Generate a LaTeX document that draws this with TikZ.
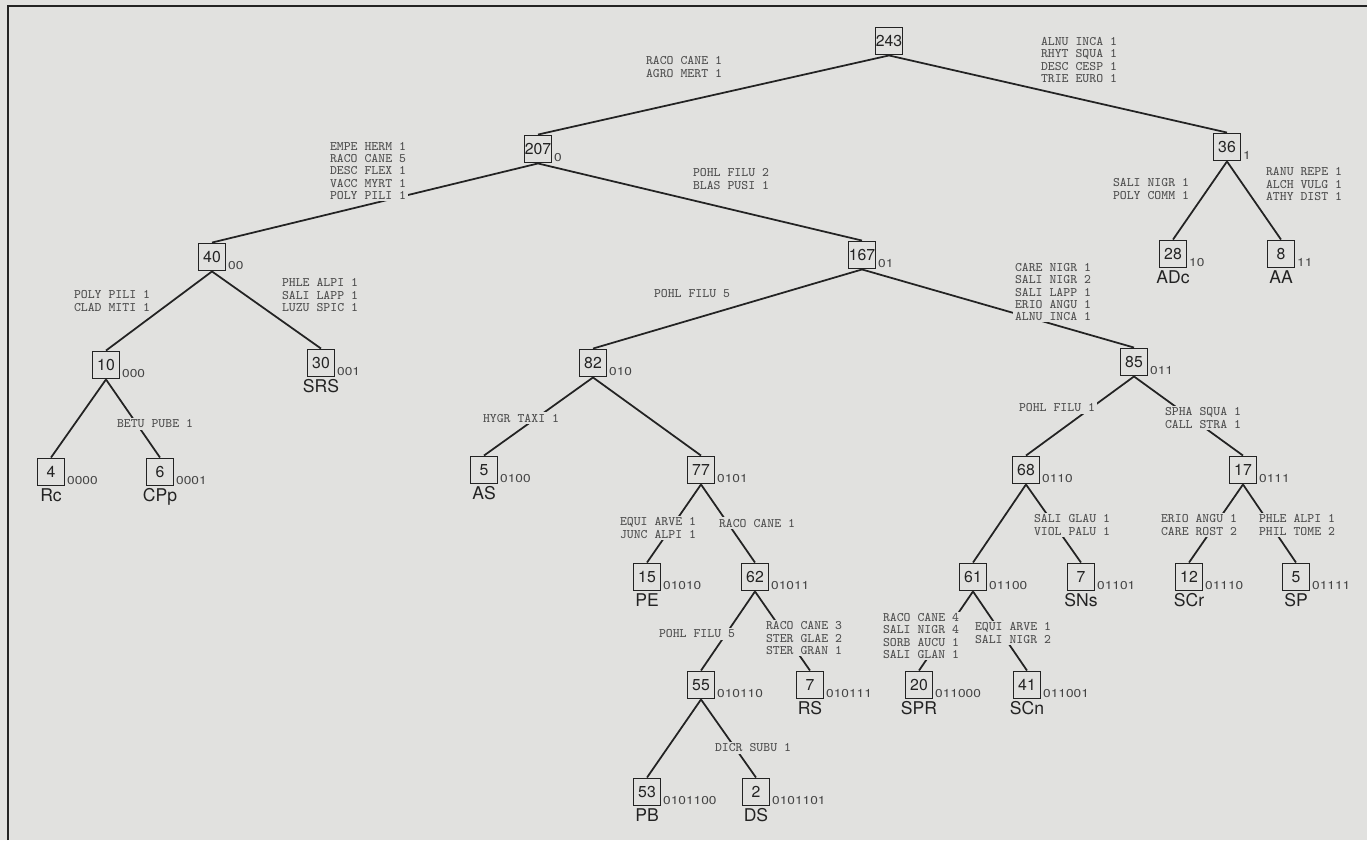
\documentclass[tikz,border=0pt]{standalone}
\usepackage{fontspec}
\newfontfamily\heros{TeX Gyre Heros}
\newfontfamily\heroswide[FakeStretch=1.2]{TeX Gyre Heros}
\definecolor{paper}{RGB}{225,225,223}
\definecolor{ink}{RGB}{35,35,35}
\definecolor{typeink}{RGB}{78,78,78}
\tikzset{
  cell/.style={draw=ink, line width=0.8pt, fill=paper, font=\fontsize{9}{9}\heros,
               text=ink, minimum size=0.55cm, inner sep=0pt},
  code/.style={anchor=south west, font=\fontsize{6.5}{6.5}\heroswide, text=ink!85, inner sep=0.8pt},
  group/.style={anchor=north, font=\fontsize{10}{10}\heros, text=ink, inner sep=1pt},
  spp/.style={fill=paper, font=\fontsize{7.4}{6.9}\ttfamily, text=typeink,
              align=left, inner sep=1pt},
  branch/.style={draw=ink, line width=1pt},
}
\begin{document}
\begin{tikzpicture}[x=0.02cm, y=-0.02cm]

  \fill[paper] (0,0) rectangle (1367,840);
  \useasboundingbox (0,0) rectangle (1367,840);
  \draw[ink, line width=1.3pt] (8,840) -- (8,6) -- (1367,6);

  % Clusters (size, binary code)
  \node[cell] (nr) at (889,41) {243};
  \foreach \id/\x/\y/\num in {0/538/149/207, 1/1227/147/36,
      00/212/257/40, 01/862/255/167, 10/1173/254/28, 11/1281/254/8,
      000/106/365/10, 001/321/363/30, 010/593/363/82, 011/1134/362/85,
      0000/51/472/4, 0001/160/472/6, 0100/484/470/5, 0101/701/470/77,
      0110/1026/470/68, 0111/1243/470/17,
      01010/647/577/15, 01011/755/577/62, 01100/973/577/61, 01101/1081/577/7,
      01110/1189/577/12, 01111/1296/577/5,
      010110/701/685/55, 010111/810/685/7, 011000/919/685/20, 011001/1027/685/41,
      0101100/647/792/53, 0101101/756/792/2}{
    \node[cell] (n\id) at (\x,\y) {\num};
    \node[code] (c\id) at (n\id.south east) {\id};
  }

  % Vegetation types at the leaves
  \foreach \id/\grp in {10/ADc, 11/AA, 001/SRS, 0000/Rc, 0001/CPp, 0100/AS,
      01010/PE, 01101/SNs, 01110/SCr, 01111/SP, 010111/RS, 011000/SPR,
      011001/SCn, 0101100/PB, 0101101/DS}
    \node[group] (g\id) at (n\id.south) {\grp};

  % Branches
  \foreach \a/\b in {r/0, r/1, 0/00, 0/01, 1/10, 1/11, 00/000, 00/001,
      01/010, 01/011, 000/0000, 000/0001, 010/0100, 010/0101, 011/0110,
      011/0111, 0101/01010, 0101/01011, 0110/01100, 0110/01101,
      0111/01110, 0111/01111, 01011/010110, 01011/010111,
      01100/011000, 01100/011001, 010110/0101100, 010110/0101101}
    \draw[branch] (n\a.south) -- (n\b.north);

  % Indicator species on the branches
  \node[spp] (s0) at (684,67) {RACO CANE 1\\AGRO MERT 1};
  \node[spp] (s1) at (1079,60) {ALNU INCA 1\\RHYT SQUA 1\\DESC CESP 1\\TRIE EURO 1};
  \node[spp] (s00) at (368,171) {EMPE HERM 1\\RACO CANE 5\\DESC FLEX 1\\VACC MYRT 1\\POLY PILI 1};
  \node[spp] (s01) at (731,179) {POHL FILU 2\\BLAS PUSI 1};
  \node[spp] (s10) at (1151,189) {SALI NIGR 1\\POLY COMM 1};
  \node[spp] (s11) at (1304,184) {RANU REPE 1\\ALCH VULG 1\\ATHY DIST 1};
  \node[spp] (s000) at (112,301) {POLY PILI 1\\CLAD MITI 1};
  \node[spp] (s001) at (320,295) {PHLE ALPI 1\\SALI LAPP 1\\LUZU SPIC 1};
  \node[spp] (s0001) at (155,424) {BETU PUBE 1};
  \node[spp] (s010) at (692,294) {POHL FILU 5};
  \node[spp] (s011) at (1053,292) {CARE NIGR 1\\SALI NIGR 2\\SALI LAPP 1\\ERIO ANGU 1\\ALNU INCA 1};
  \node[spp] (s0100) at (521,418) {HYGR TAXI 1};
  \node[spp] (s0110) at (1057,408) {POHL FILU 1};
  \node[spp] (s0111) at (1203,418) {SPHA SQUA 1\\CALL STRA 1};
  \node[spp] (s01010) at (658,528) {EQUI ARVE 1\\JUNC ALPI 1};
  \node[spp] (s01011) at (757,523) {RACO CANE 1};
  \node[spp] (s01101) at (1072,525) {SALI GLAU 1\\VIOL PALU 1};
  \node[spp] (s01110) at (1199,525) {ERIO ANGU 1\\CARE ROST 2};
  \node[spp] (s01111) at (1297,525) {PHLE ALPI 1\\PHIL TOME 2};
  \node[spp] (s010110) at (697,634) {POHL FILU 5};
  \node[spp] (s010111) at (804,638) {RACO CANE 3\\STER GLAE 2\\STER GRAN 1};
  \node[spp] (s011000) at (921,636) {RACO CANE 4\\SALI NIGR 4\\SORB AUCU 1\\SALI GLAN 1};
  \node[spp] (s011001) at (1013,633) {EQUI ARVE 1\\SALI NIGR 2};
  \node[spp] (s0101101) at (753,748) {DICR SUBU 1};

\end{tikzpicture}
\end{document}
